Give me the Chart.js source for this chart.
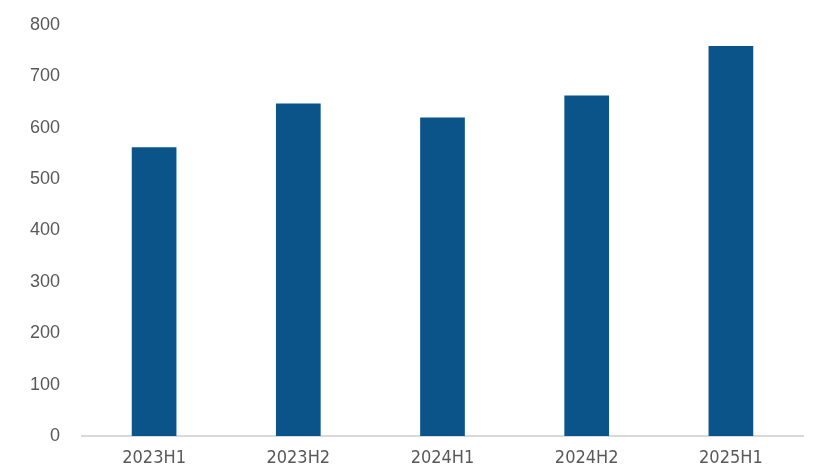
<!DOCTYPE html>
<html><head><meta charset="utf-8">
<script src="https://cdn.jsdelivr.net/npm/chart.js@4"></script>
<style>html,body{margin:0;padding:0;background:#fff;}#wrap{width:819px;height:474px;position:relative;}</style>
</head><body><div id="wrap"><canvas id="c" width="819" height="474"></canvas></div>
<script>
const categories = ["2023H1","2023H2","2024H1","2024H2","2025H1"];
const values = [562, 647, 620, 663, 759];
const yTicks = [0,100,200,300,400,500,600,700,800];

new Chart(document.getElementById('c'), {
  type: 'bar',
  data: { labels: categories, datasets: [{ data: values, backgroundColor: '#0B5489', categoryPercentage: 1, barPercentage: 0.31 }] },
  options: {
    responsive: false, animation: false,
    layout: { padding: { top: 25, right: 16, left: 0, bottom: 0 } },
    plugins: { legend: { display: false }, tooltip: { enabled: false } },
    scales: {
      x: {
        grid: { display: false, drawTicks: false },
        border: { display: true, color: '#d9d9d9', width: 2 },
        ticks: { color: '#595959', padding: 12, font: { family: "'Liberation Sans Narrow','DejaVu Sans Condensed',sans-serif", size: 18 } },
        afterFit: s => { s.height = 38; s.paddingLeft = 0; s.paddingRight = 0; }
      },
      y: {
        min: 0, max: 800,
        afterBuildTicks: s => { s.ticks = yTicks.map(v => ({ value: v })); },
        grid: { display: false, drawTicks: false },
        border: { display: false },
        ticks: { color: '#595959', padding: 22, font: { family: "'Liberation Sans','DejaVu Sans',sans-serif", size: 18 } },
        afterFit: s => { s.width = 82; s.paddingTop = 0; s.paddingBottom = 0; }
      }
    }
  }
});
</script></body></html>
